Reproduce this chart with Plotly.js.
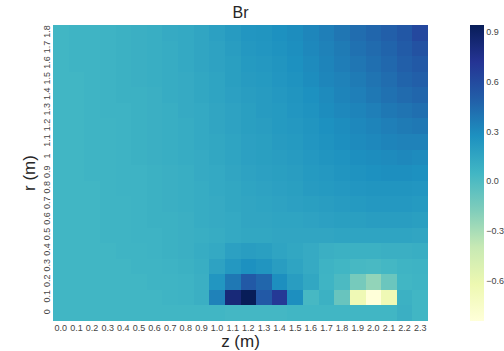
<!DOCTYPE html>
<html>
<head>
<meta charset="utf-8">
<script src="https://cdn.plot.ly/plotly-3.0.1.min.js"></script>
<style>html,body{margin:0;padding:0;background:#fff;}#chart{width:504px;height:351px;}</style>
</head>
<body>
<div id="chart"></div>
<script>
// axis categories
const zLabels = ["0.0","0.1","0.2","0.3","0.4","0.5","0.6","0.7","0.8","0.9","1.0","1.1","1.2","1.3","1.4","1.5","1.6","1.7","1.8","1.9","2.0","2.1","2.2","2.3"];
const rLabels = ["0","0.1","0.2","0.3","0.4","0.5","0.6","0.7","0.8","0.9","1","1.1","1.2","1.3","1.4","1.5","1.6","1.7","1.8"];

// Br values, one row per r (ascending r), one column per z
const Br_r00 = [0.05,0.05,0.05,0.05,0.05,0.05,0.05,0.05,0.05,0.05,0.05,0.04,0.04,0.04,0.04,0.05,0.05,0.05,0.05,0.05,0.05,0.05,0.09,0.05];
const Br_r01 = [0.05,0.05,0.05,0.05,0.05,0.05,0.05,0.06,0.07,0.09,0.34,0.82,0.94,0.52,0.69,0.28,0.03,0.08,-0.09,-0.64,-0.84,-0.64,0.08,0.05];
const Br_r02 = [0.05,0.05,0.05,0.05,0.05,0.05,0.06,0.06,0.07,0.09,0.24,0.38,0.52,0.46,0.28,0.20,0.14,0.06,0.01,-0.14,-0.23,-0.10,0.05,0.06];
const Br_r03 = [0.05,0.05,0.05,0.05,0.05,0.06,0.06,0.07,0.08,0.10,0.17,0.23,0.27,0.25,0.20,0.16,0.12,0.07,0.05,0.03,0.02,0.04,0.06,0.07];
const Br_r04 = [0.05,0.05,0.05,0.05,0.06,0.06,0.07,0.08,0.09,0.11,0.13,0.18,0.20,0.19,0.16,0.14,0.12,0.09,0.08,0.08,0.08,0.09,0.09,0.10];
const Br_r05 = [0.05,0.05,0.05,0.06,0.06,0.07,0.07,0.08,0.09,0.10,0.11,0.13,0.14,0.14,0.15,0.15,0.15,0.15,0.16,0.16,0.16,0.16,0.16,0.15];
const Br_r06 = [0.05,0.05,0.05,0.06,0.06,0.07,0.08,0.08,0.09,0.11,0.12,0.13,0.15,0.15,0.16,0.16,0.17,0.18,0.19,0.19,0.20,0.20,0.20,0.19];
const Br_r07 = [0.05,0.05,0.05,0.06,0.06,0.07,0.08,0.09,0.10,0.11,0.12,0.14,0.15,0.16,0.17,0.18,0.19,0.20,0.21,0.22,0.23,0.23,0.23,0.22];
const Br_r08 = [0.05,0.05,0.05,0.06,0.07,0.07,0.08,0.09,0.10,0.11,0.13,0.14,0.16,0.17,0.18,0.19,0.21,0.22,0.23,0.24,0.25,0.25,0.25,0.24];
const Br_r09 = [0.05,0.05,0.06,0.06,0.07,0.07,0.08,0.09,0.10,0.12,0.13,0.15,0.17,0.18,0.19,0.20,0.22,0.23,0.25,0.26,0.27,0.28,0.28,0.27];
const Br_r10 = [0.05,0.05,0.06,0.06,0.07,0.08,0.09,0.10,0.11,0.12,0.14,0.16,0.18,0.19,0.20,0.21,0.23,0.25,0.26,0.28,0.29,0.30,0.31,0.30];
const Br_r11 = [0.05,0.05,0.06,0.06,0.07,0.08,0.09,0.10,0.11,0.13,0.14,0.16,0.18,0.19,0.21,0.22,0.24,0.26,0.28,0.30,0.31,0.33,0.34,0.34];
const Br_r12 = [0.05,0.05,0.06,0.06,0.07,0.08,0.09,0.10,0.11,0.13,0.15,0.17,0.19,0.20,0.22,0.23,0.25,0.27,0.29,0.31,0.33,0.35,0.37,0.38];
const Br_r13 = [0.05,0.05,0.06,0.07,0.07,0.08,0.09,0.10,0.12,0.13,0.15,0.17,0.19,0.21,0.22,0.24,0.26,0.29,0.31,0.33,0.35,0.38,0.40,0.42];
const Br_r14 = [0.05,0.05,0.06,0.07,0.08,0.08,0.09,0.11,0.12,0.14,0.16,0.18,0.20,0.21,0.23,0.25,0.27,0.30,0.33,0.35,0.38,0.41,0.44,0.46];
const Br_r15 = [0.05,0.05,0.06,0.07,0.08,0.09,0.10,0.11,0.12,0.14,0.16,0.19,0.21,0.22,0.24,0.26,0.29,0.32,0.34,0.37,0.40,0.43,0.47,0.49];
const Br_r16 = [0.05,0.06,0.06,0.07,0.08,0.09,0.10,0.11,0.13,0.15,0.17,0.19,0.22,0.23,0.25,0.27,0.30,0.33,0.36,0.39,0.42,0.45,0.49,0.52];
const Br_r17 = [0.05,0.06,0.06,0.07,0.08,0.09,0.10,0.11,0.13,0.15,0.17,0.20,0.23,0.24,0.26,0.28,0.31,0.34,0.37,0.41,0.44,0.47,0.51,0.56];
const Br_r18 = [0.05,0.06,0.06,0.07,0.08,0.09,0.10,0.12,0.13,0.15,0.18,0.21,0.24,0.25,0.27,0.29,0.32,0.35,0.39,0.43,0.46,0.49,0.53,0.61];

const BrRows = [Br_r00,Br_r01,Br_r02,Br_r03,Br_r04,Br_r05,Br_r06,Br_r07,Br_r08,Br_r09,Br_r10,Br_r11,Br_r12,Br_r13,Br_r14,Br_r15,Br_r16,Br_r17,Br_r18];

const cbTickVals = [-0.6,-0.3,0.0,0.3,0.6,0.9];
const cbTickText = ["\u22120.6","\u22120.3","0.0","0.3","0.6","0.9"];

const ylgnbu = [
  [0.000,"#ffffd9"],[0.125,"#edf8b1"],[0.250,"#c7e9b4"],[0.375,"#7fcdbb"],
  [0.500,"#41b6c4"],[0.625,"#1d91c0"],[0.750,"#225ea8"],[0.875,"#253494"],[1.000,"#081d58"]
];

const textCol = "#262626";
const trace = {
  type: "heatmap",
  x: zLabels,
  y: rLabels,
  z: BrRows,
  colorscale: ylgnbu,
  zmin: -0.84,
  zmax: 0.94,
  xgap: 0, ygap: 0,
  hoverinfo: "skip",
  colorbar: {
    x: 1.112, xanchor: "left", xref: "paper",
    y: 0.5, yanchor: "middle",
    len: 1, lenmode: "fraction",
    thickness: 14, thicknessmode: "pixels",
    outlinewidth: 0,
    tickmode: "array", tickvals: cbTickVals, ticktext: cbTickText,
    ticks: "", ticklen: 0,
    tickfont: {family: "Liberation Sans, Arial, sans-serif", size: 9, color: "#444"},
    xpad: 0, ypad: 0
  }
};

const layout = {
  width: 504, height: 351,
  margin: {l: 53, r: 76, t: 25, b: 30, pad: 0, autoexpand: false},
  paper_bgcolor: "#fff",
  plot_bgcolor: "#fff",
  font: {family: "Liberation Sans, Arial, sans-serif", color: textCol},
  title: {text: "Br", x: 0.5, xref: "paper", xanchor: "center", y: 1, yref: "container", yanchor: "top", pad: {t: 7},
          font: {size: 16, color: textCol}},
  xaxis: {
    type: "category", automargin: false,
    tickmode: "array", tickvals: zLabels, ticktext: zLabels,
    ticks: "", showgrid: false, zeroline: false, showline: false,
    tickfont: {size: 9, color: "#444"},
    tickangle: 0,
    title: {text: "z (m)", font: {size: 17, color: textCol}, standoff: 2}
  },
  yaxis: {
    type: "category", automargin: false,
    tickmode: "array", tickvals: rLabels, ticktext: rLabels,
    ticks: "", showgrid: false, zeroline: false, showline: false,
    tickfont: {size: 9, color: "#444"},
    tickangle: -90,
    title: {text: "r (m)", font: {size: 17, color: textCol}, standoff: 2}
  }
};

Plotly.newPlot("chart", [trace], layout, {displayModeBar: false, staticPlot: true});
</script>
</body>
</html>
